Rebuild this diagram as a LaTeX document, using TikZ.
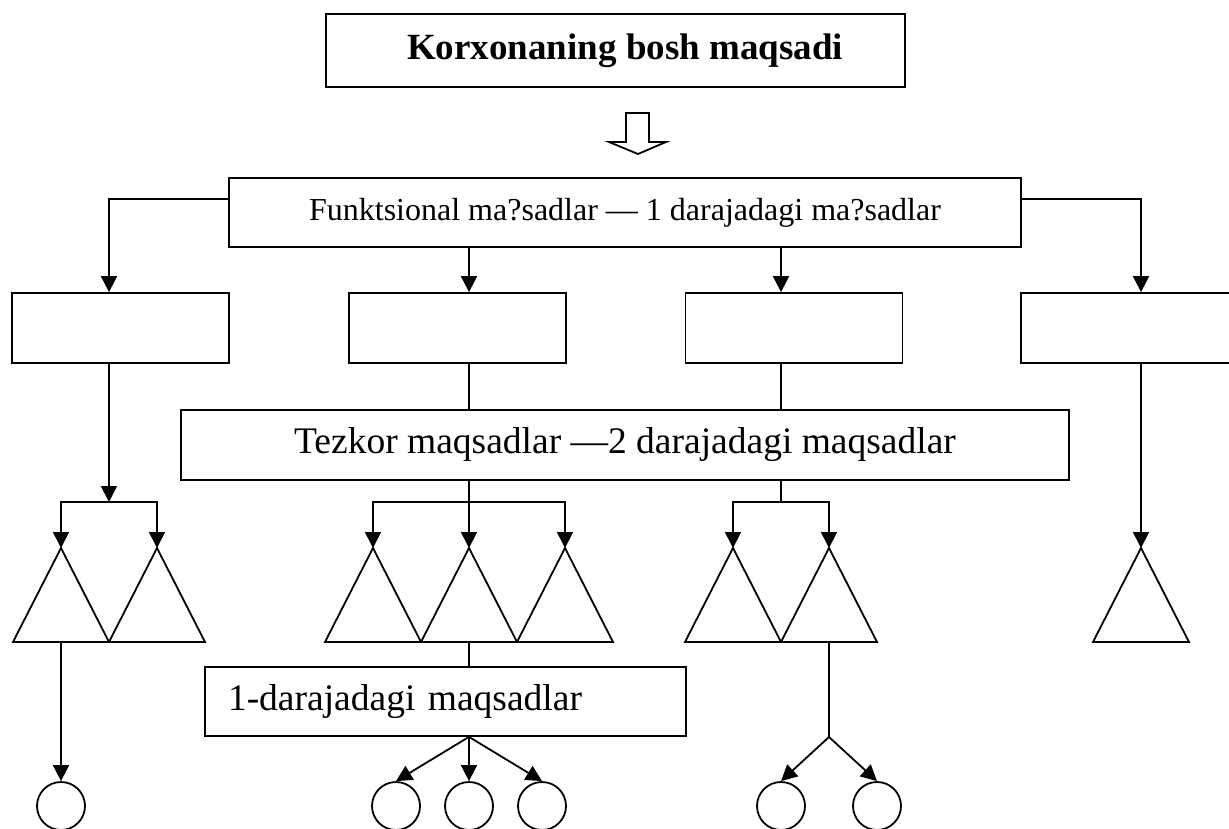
\documentclass[tikz,border=0pt]{standalone}
\usepackage{fontspec}
\setmainfont{Liberation Serif}
\usetikzlibrary{arrows.meta,calc}
\begin{document}
\begin{tikzpicture}[x=1pt,y=-1pt,
  line width=1.8pt,
  box/.style={draw,rectangle,inner sep=0pt,line width=1.8pt},
  arr/.style={-{Triangle[width=16pt,length=16pt]}},
  ring/.style={draw,circle,minimum size=48pt,inner sep=0pt,line width=1.8pt},
  tri/.style={draw,line width=1.8pt},
  big/.style={font=\fontsize{37.5}{44}\selectfont},
  mid/.style={font=\fontsize{32}{38}\selectfont}]
\useasboundingbox (0,0) rectangle (1229,829);
\clip (0,0) rectangle (1229,829);

% boxes
\node[box, minimum width=579pt, minimum height=73pt, font=\fontsize{37}{44}\bfseries\selectfont] (top) at (615.5,50.5) {\hspace*{19pt}Korxonaning bosh maqsadi};
\node[box, mid, minimum width=792pt, minimum height=69pt] (fun) at (625,212.5) {\raisebox{3pt}{Funktsional ma?sadlar — 1 darajadagi ma?sadlar}};
\node[box, minimum width=217pt, minimum height=70pt] (b1) at (120.5,328) {};
\node[box, minimum width=217pt, minimum height=70pt] (b2) at (457.5,328) {};
\node[box, minimum width=217pt, minimum height=70pt] (b3) at (794,328) {};
\node[box, minimum width=217pt, minimum height=70pt] (b4) at (1129.5,328) {};
\node[box, big, minimum width=888pt, minimum height=70pt] (tez) at (625,445) {Tezkor maqsadlar —2 darajadagi maqsadlar};
\node[box, big, minimum width=481pt, minimum height=69pt, inner xsep=23pt, text width=435pt, align=left] (lvl) at (445.5,701.5) {1-darajadagi maqsadlar};

% hollow arrow
\draw (626,113) -- (649,113) -- (649,142) -- (666,142) -- (638,154) -- (609,142) -- (626,142) -- cycle;

% triangles (apex coordinates)
\coordinate (t1) at (61,548);
\coordinate (t2) at (157,548);
\coordinate (t3) at (373,548);
\coordinate (t4) at (469,548);
\coordinate (t5) at (565,548);
\coordinate (t6) at (733,548);
\coordinate (t7) at (829,548);
\coordinate (t8) at (1141,548);
\foreach \t in {t1,t2,t3,t4,t5,t6,t7,t8}
  \draw[tri] (\t) -- ++(-48,94) -- ++(96,0) -- cycle;

% circles
\node[ring] (c1) at (61,806) {};
\node[ring] (c2) at (396,806) {};
\node[ring] (c3) at (469,806) {};
\node[ring] (c4) at (542,806) {};
\node[ring] (c5) at (781,806) {};
\node[ring] (c6) at (877,806) {};

% junctions
\coordinate (bar1) at (109,502);
\coordinate (bar2) at (469,502);
\coordinate (bar3) at (781,502);
\coordinate (fork) at (829,737);

% connectors from Funktsional
\draw[arr] ($(fun.north west)+(0,22)$) -| (b1.north -| bar1);
\draw[arr] ($(fun.north east)+(0,22)$) -| (b4.north -| t8);
\draw[arr] (fun.south -| bar2) -- (b2.north -| bar2);
\draw[arr] (fun.south -| bar3) -- (b3.north -| bar3);

% to Tezkor
\draw (b2.south -| bar2) -- (tez.north -| bar2);
\draw (b3.south -| bar3) -- (tez.north -| bar3);

% left group
\draw[arr] (b1.south -| bar1) -- (bar1);
\draw[arr] (bar1) -| (t1);
\draw[arr] (bar1) -| (t2);
\draw[arr] ($(t1)+(0,94)$) -- (c1.north);

% middle group
\draw (tez.south -| bar2) -- (bar2);
\draw[arr] (bar2) -| (t3);
\draw[arr] (bar2) -- (t4);
\draw[arr] (bar2) -| (t5);
\draw ($(t4)+(0,94)$) -- (lvl.north -| t4);
\draw[arr] (lvl.south -| t4) -- (c2.north);
\draw[arr] (lvl.south -| t4) -- (c3.north);
\draw[arr] (lvl.south -| t4) -- (c4.north);

% right group
\draw (tez.south -| bar3) -- (bar3);
\draw[arr] (bar3) -| (t6);
\draw[arr] (bar3) -| (t7);
\draw ($(t7)+(0,94)$) -- (fork);
\draw[arr] (fork) -- (c5.north);
\draw[arr] (fork) -- (c6.north);

% far right
\draw[arr] (b4.south -| t8) -- (t8);
\end{tikzpicture}
\end{document}
